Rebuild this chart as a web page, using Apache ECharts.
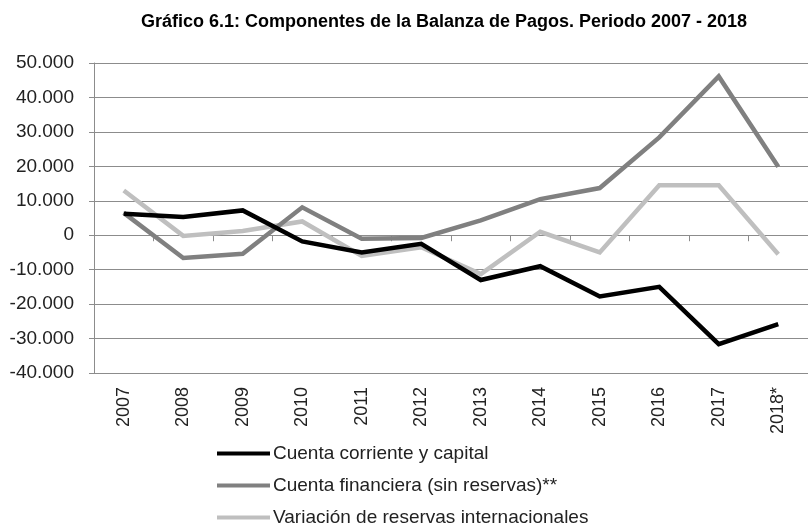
<!DOCTYPE html>
<html>
<head>
<meta charset="utf-8">
<script src="https://cdn.jsdelivr.net/npm/echarts@6/dist/echarts.min.js"></script>
<style>html,body{margin:0;padding:0;background:#fff}#c{width:808px;height:525px}</style>
</head>
<body>
<div id="c"></div>
<script>
var categories = ['2007','2008','2009','2010','2011','2012','2013','2014','2015','2016','2017','2018*'];
var cuentaCorriente = [6200, 5300, 7200, -1800, -5000, -2500, -13000, -9000, -17800, -15000, -31600, -25800];
var cuentaFinanciera = [6500, -6600, -5400, 8100, -1000, -800, 4300, 10500, 13700, 28400, 46100, 19900];
var variacionReservas = [13000, -200, 1200, 4000, -6000, -3500, -11300, 1000, -5000, 14500, 14500, -5500];
var seriesNames = ['Cuenta corriente y capital', 'Cuenta financiera (sin reservas)**', 'Variación de reservas internacionales'];
var yTicks = {min: -40000, max: 50000, interval: 10000};

var colors = ['#000000', '#808080', '#bfbfbf'];
var font = 'Liberation Sans';
var chart = echarts.init(document.getElementById('c'));
function fmt(v){
  var s = Math.abs(v).toString().replace(/\B(?=(\d{3})+(?!\d))/g, '.');
  return (v < 0 ? '-' : '') + s;
}
function legend(i, top){
  return {
    data: [seriesNames[i]], left: 212, top: top, orient: 'vertical',
    icon: 'rect', itemWidth: 53, itemHeight: 4, itemGap: 2,
    textStyle: {fontFamily: font, fontSize: 19, color: '#222', padding: [0, 0, 0, -2]},
    selectedMode: false
  };
}
var datas = [cuentaCorriente, cuentaFinanciera, variacionReservas];
chart.setOption({
  animation: false,
  color: colors,
  title: {
    text: 'Gráfico 6.1: Componentes de la Balanza de Pagos. Periodo 2007 - 2018',
    left: 439, top: 8, textAlign: 'center',
    textStyle: {fontFamily: font, fontSize: 18, fontWeight: 'bold', color: '#000'}
  },
  legend: [legend(0, 439), legend(1, 471), legend(2, 503)],
  grid: {left: 94, right: 0, top: 63, bottom: 152, containLabel: false},
  xAxis: [{
    type: 'category', data: categories, boundaryGap: true,
    axisLine: {show: true, onZero: true, lineStyle: {color: '#8c8c8c', width: 1}},
    axisTick: {show: true, length: 6, lineStyle: {color: '#8c8c8c'}},
    axisLabel: {show: false}
  }, {
    type: 'category', data: categories, boundaryGap: true, position: 'bottom',
    axisLine: {show: false, onZero: false},
    axisTick: {show: false},
    axisLabel: {show: true, rotate: 90, margin: 14, fontFamily: font, fontSize: 18, color: '#222'}
  }],
  yAxis: {
    type: 'value', min: yTicks.min, max: yTicks.max, interval: yTicks.interval,
    axisLine: {show: true, lineStyle: {color: '#8c8c8c'}},
    axisTick: {show: true, length: 5, lineStyle: {color: '#8c8c8c'}},
    splitLine: {show: true, lineStyle: {color: '#8c8c8c', width: 1}},
    axisLabel: {margin: 20, fontFamily: font, fontSize: 19, color: '#222', formatter: fmt}
  },
  series: [2, 1, 0].map(function(i){
    return {
      name: seriesNames[i], type: 'line', data: datas[i], xAxisIndex: 0,
      symbol: 'none', z: 10 - i,
      lineStyle: {color: colors[i], width: 4.5, join: 'miter'},
      itemStyle: {color: colors[i]}
    };
  })
});
</script>
</body>
</html>
